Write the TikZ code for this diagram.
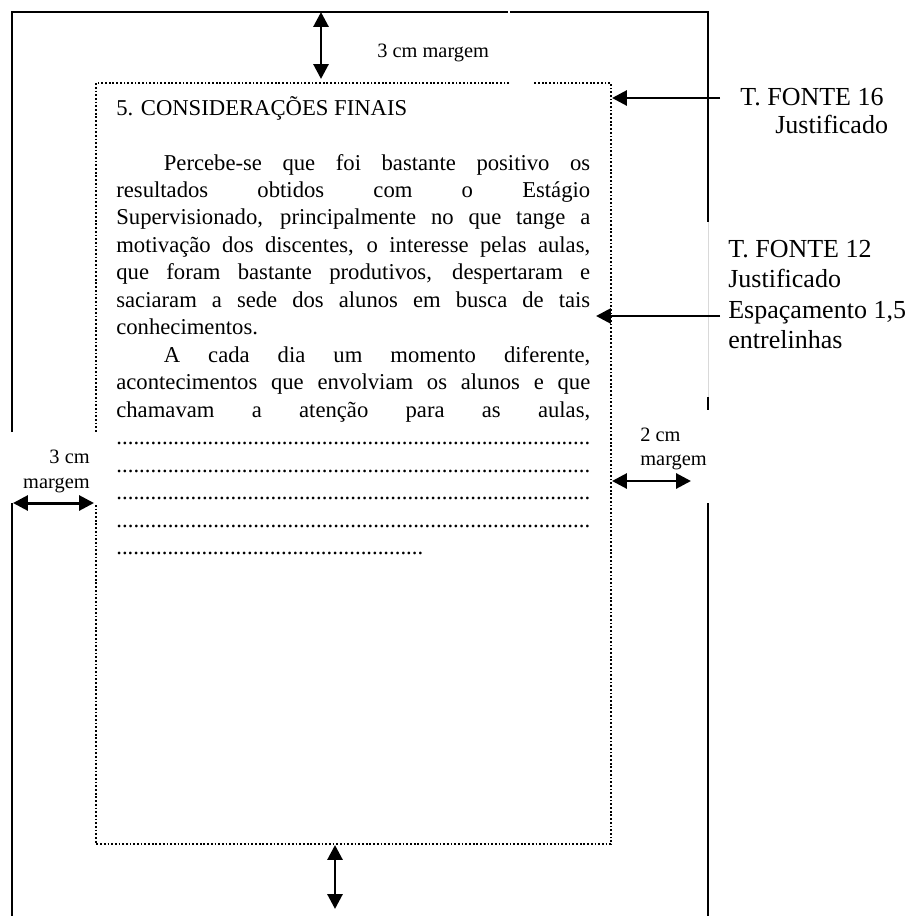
\documentclass[tikz,border=0pt]{standalone}
\usepackage{fontspec}
\setmainfont{Liberation Serif}
\usetikzlibrary{arrows.meta}

\tikzset{
  frame/.style={line width=1.1pt},
  pagebox/.style={line width=1pt, dash pattern=on 1pt off 1.1pt},
  tipA/.tip={Triangle[length=8.5pt,width=8.5pt]},
  marrow/.style={line width=1.7pt, dash pattern=on 0.35pt off 0.2pt, tipA-tipA},
  ptrarrow/.style={line width=1.7pt, dash pattern=on 0.35pt off 0.2pt, -tipA},
  bodytext/.style={font=\fontsize{12.9}{15.65}\selectfont, text width=9.48cm,
    align=justify, inner sep=0pt},
  bigtag/.style={font=\fontsize{14.8}{17.2}\selectfont, inner sep=0pt},
  smalltag/.style={font=\fontsize{11.6}{14.2}\selectfont, inner sep=0pt},
}
\newcommand{\dotline}{\null\xleaders\hbox{.}\hfill\null}

\begin{document}
\begin{tikzpicture}[x=0.02cm, y=-0.02cm]
  \useasboundingbox (0,0) rectangle (911,916);

  % Outer page
  \draw[frame] (12,432) -- (12,12) -- (708,12) -- (708,222);
  \draw[frame] (12,503) -- (12,916);
  \draw[gray!30, line width=0.4pt] (708,222) -- (708,397);
  \draw[frame] (708,397) -- (708,410);
  \draw[frame] (708,503) -- (708,916);
  \draw[white, line width=1.5pt] (509,10) -- (509,14);

  % Text area
  \draw[pagebox] (509,83) -- (96,83) -- (96,432);
  \draw[pagebox] (96,505) -- (96,844) -- (611,844) -- (611,83) -- (534,83);

  % Margin arrows
  \coordinate (topA) at (321,12);
  \coordinate (topB) at (321,79);
  \draw[marrow] (topA) -- (topB);
  \node[smalltag, anchor=base west] (topcm) at (377,57) {3 cm margem};

  \coordinate (botA) at (335,845);
  \coordinate (botB) at (335,909);
  \draw[marrow] (botA) -- (botB);

  \coordinate (leftA) at (13,503);
  \coordinate (leftB) at (94,503);
  \draw[marrow] (leftA) -- (leftB);
  \node[smalltag, anchor=base east] (leftcm) at (90,463) {3 cm};
  \node[smalltag, anchor=base east] (leftmg) at (90,488) {margem};

  \coordinate (rightA) at (612,481);
  \coordinate (rightB) at (691,481);
  \draw[marrow] (rightA) -- (rightB);
  \node[smalltag, anchor=base west] (rightcm) at (640,441) {2 cm};
  \node[smalltag, anchor=base west] (rightmg) at (640,465) {margem};

  % Font notes
  \node[bigtag, anchor=base west] (f16a) at (740,105) {T. FONTE 16};
  \node[bigtag, anchor=base west] (f16b) at (775,133) {Justificado};
  \coordinate (f16tail) at (720,98);
  \coordinate (f16tip) at (612,98);
  \draw[ptrarrow] (f16tail) -- (f16tip);

  \node[bigtag, anchor=base west] (f12a) at (728,257) {T. FONTE 12};
  \node[bigtag, anchor=base west] (f12b) at (728,287) {Justificado};
  \node[bigtag, anchor=base west] (f12c) at (728,318) {Espaçamento 1,5};
  \node[bigtag, anchor=base west] (f12d) at (728,348) {entrelinhas};
  \coordinate (f12tail) at (720,316);
  \coordinate (f12tip) at (596,316);
  \draw[ptrarrow] (f12tail) -- (f12tip);

  % Sample page text
  \node[bodytext, anchor=base west] (titulo) at (116,115) {5. CONSIDERAÇÕES FINAIS};
  \node[bodytext, anchor=base west] (corpo) at (116,170) {%
    \tolerance=10000\hbadness=10000
    \hspace*{0.95cm}Percebe-se que foi bastante positivo os\linebreak
    resultados obtidos com o Estágio\linebreak
    Supervisionado, principalmente no que tange a\linebreak
    motivação dos discentes, o interesse pelas aulas,\linebreak
    que foram bastante produtivos, despertaram e\linebreak
    saciaram a sede dos alunos em busca de tais\linebreak
    conhecimentos.\par
    \hspace*{0.95cm}A cada dia um momento diferente,\linebreak
    acontecimentos que envolviam os alunos e que\linebreak
    chamavam a atenção para as aulas,\linebreak
    \dotline\linebreak
    \dotline\linebreak
    \dotline\linebreak
    \dotline\linebreak
    \hbox to 6.14cm{\xleaders\hbox{.}\hfill}\par};
\end{tikzpicture}
\end{document}
